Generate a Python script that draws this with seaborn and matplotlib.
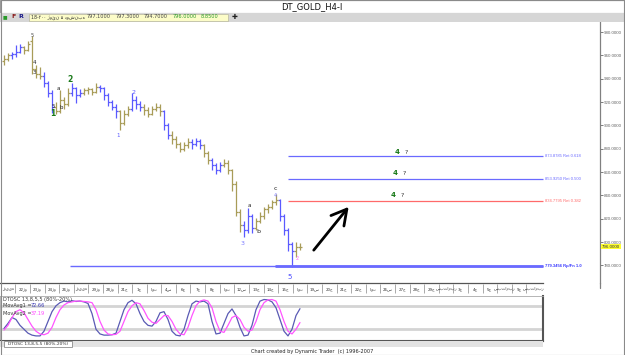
import numpy as np
import pandas as pd
import matplotlib
matplotlib.use("Agg")
import matplotlib.pyplot as plt
from matplotlib.patches import Rectangle
from matplotlib.lines import Line2D
import seaborn as sns

# ---------------- data ----------------
opens = [955, 957, 960, 961, 963, 967, 965, 972, 948, 944, 942, 936, 928, 916, 912, 922, 918, 928, 932, 926,
         928, 930, 931, 929, 933, 932, 926, 920, 916, 912, 902, 910, 914, 922, 918, 916, 913, 910, 914, 916,
         912, 900, 892, 888, 884, 880, 883, 886, 884, 887, 883, 876, 870, 866, 862, 866, 868, 862, 850, 826,
         815, 810, 822, 812, 818, 822, 828, 830, 834, 836, 822, 810, 798, 792, 796]
highs = [960, 962, 963, 969, 970, 968, 972, 977, 952, 950, 946, 938, 930, 920, 930, 924, 932, 936, 933, 931,
         932, 933, 932, 936, 935, 933, 928, 922, 918, 913, 913, 917, 928, 925, 921, 918, 916, 917, 919, 918,
         913, 902, 895, 891, 886, 886, 889, 888, 889, 888, 884, 878, 872, 868, 869, 871, 870, 863, 852, 828,
         818, 829, 824, 821, 826, 830, 833, 836, 841, 837, 824, 812, 800, 800, 799]
lows = [952, 955, 957, 959, 962, 961, 964, 944, 941, 940, 933, 924, 911, 910, 911, 914, 917, 925, 919, 924,
        926, 927, 926, 928, 929, 922, 917, 913, 906, 896, 900, 908, 912, 914, 912, 909, 907, 909, 912, 908,
        896, 888, 884, 881, 877, 878, 881, 880, 882, 880, 873, 867, 862, 858, 860, 864, 858, 844, 822, 809,
        804, 808, 808, 810, 816, 820, 825, 828, 832, 818, 806, 792, 779, 787, 793]
closes = [957, 960, 961, 963, 967, 965, 970, 948, 944, 942, 936, 928, 916, 912, 922, 918, 928, 932, 926, 928,
          930, 931, 929, 933, 932, 926, 920, 916, 912, 902, 910, 914, 922, 918, 916, 913, 910, 914, 916, 912,
          900, 892, 888, 884, 880, 883, 886, 884, 887, 883, 876, 870, 866, 862, 866, 868, 862, 850, 826, 815,
          810, 822, 812, 818, 822, 828, 830, 834, 836, 822, 810, 798, 792, 796, 796]
trend = list("oobbbooooobbboooobbboooobbbbbooobbbooooobbooooobbboobbbooooobbboooooobbbboooob")[:75]

dtosc = [22, 35, 50, 45, 30, 20, 10, 5, 3, 3, 15, 40, 65, 80, 88, 92, 90, 93, 91, 92,
         90, 86, 60, 20, 8, 5, 5, 6, 10, 40, 70, 88, 94, 85, 60, 40, 30, 28, 40, 62,
         65, 45, 15, 5, 3, 20, 55, 85, 92, 90, 92, 85, 40, 8, 10, 35, 60, 72, 55, 25,
         3, 5, 30, 70, 92, 96, 95, 90, 75, 45, 15, 3, 20, 55, 72.66]
movavg = [18, 30, 50, 65, 70, 62, 45, 28, 15, 8, 6, 10, 25, 50, 70, 82, 88, 90, 92, 92,
          91, 90, 88, 70, 40, 18, 8, 6, 7, 15, 40, 65, 80, 88, 85, 68, 48, 38, 35, 45,
          55, 55, 40, 20, 8, 6, 25, 55, 80, 92, 95, 92, 75, 40, 15, 12, 30, 50, 55, 45,
          25, 15, 18, 40, 70, 88, 95, 96, 92, 70, 40, 15, 8, 20, 37.19]

price_ticks = [780, 800, 820, 840, 860, 880, 900, 920, 940, 960, 980]
last_price = 796.0

ret_levels = [873.8785, 853.9250, 834.7795]
ret_names = ["Ret 0.618", "Ret 0.500", "Ret 0.382"]
ret_colors = ["#6a6aff", "#6a6aff", "#ff6a6a"]
ret_start = 71
base_level = 779.3456
base_starts = [16.5, 67.75]
line_end = 134.75

wave_bar = [7, 7.5, 7.5, 12.25, 12.25, 13.5, 14.25, 16.5, 28.5, 32.25, 59.75, 61.25, 63.5, 67.75, 67.75, 71.5, 73.25]
wave_price = [977, 954, 945.7, 916.6, 910.5, 932, 914.9, 939, 891.7, 928.6, 799, 830.9, 809.4, 845.5, 840, 770, 786.3]
wave_text = ["5", "4", "3", "5", "1", "a", "b", "2", "1", "2", "3", "a", "b", "c", "4", "5", "2"]
wave_color = ["#444444", "#222222", "#222222", "#222222", "#1a7a1a", "#222222", "#222222", "#1a7a1a",
              "#5a5aff", "#5a5aff", "#7a7aff", "#222222", "#222222", "#222222", "#7a7aff", "#4a4aff", "#ff66ff"]
wave_size = [3.5, 4, 4, 4, 5.5, 4, 4, 5.5, 4, 4.5, 4.5, 4, 4.5, 4.5, 3.5, 5, 3.5]

q_bar = [99.5, 99, 98.5]
q_price = [877, 859, 840]

date_labels = ["ژوییه", "22ژو", "23ژو", "24ژو", "26ژو", "ژوییه", "29ژو", "28ژو", "21ج", "1ج", "اوت",
               "4س", "6ج", "7ج", "8ج", "اوت", "12س", "13ج", "14ج", "15ج", "اوت", "19س", "20ج", "21ج",
               "22ج", "اوت", "26س", "27ج", "28ج", "29ج", "سپتامبر", "3ج", "4ج", "5ج", "سپتامبر", "9ج", "سپتامبر"]

# ---------------- style ----------------
sns.set_theme(style="white")
plt.rcParams["font.family"] = ["DejaVu Sans"]

W, H = 625, 355
fig = plt.figure(figsize=(W / 100, H / 100), dpi=100)
fig.patch.set_facecolor("white")


def rect(x0, y0, x1, y1):
    return [x0 / W, 1 - y1 / H, (x1 - x0) / W, (y1 - y0) / H]


def fx(px):
    return px / W


def fy(py):
    return 1 - py / H


# title row and toolbar
fig.add_artist(Rectangle((0, fy(13)), 1, 13 / H, transform=fig.transFigure, facecolor="white",
                         edgecolor="#9a9a9a", lw=0.8))
fig.text(fx(312), fy(7), "DT_GOLD_H4-I", ha="center", va="center", fontsize=6, color="#111111")
fig.add_artist(Rectangle((0, fy(22)), 1, 9 / H, transform=fig.transFigure, facecolor="#d6d6d6",
                         edgecolor="none"))
fig.add_artist(Rectangle((fx(29), fy(20.5)), 199 / W, 7 / H, transform=fig.transFigure,
                         facecolor="#fcfcc8", edgecolor="#b8b8a0", lw=0.5))
fig.text(fx(3), fy(17), "■", fontsize=3.5, color="#2a9a2a", va="center")
fig.text(fx(11), fy(17), "F", fontsize=4.5, color="#8a1a1a", va="center", weight="bold")
fig.text(fx(18), fy(17), "R", fontsize=4.5, color="#1a1a8a", va="center", weight="bold")
fig.text(fx(31), fy(17), "18-۲۰۰ ژوئن ۵ دوشنبه", fontsize=3.3, color="#333333", va="center")
vals = ["797.1000", "797.3000", "794.7000", "796.0000", "8.8500"]
vcols = ["#444444", "#444444", "#444444", "#2a9a2a", "#2a9a2a"]
for k, (v, c) in enumerate(zip(vals, vcols)):
    fig.text(fx(87 + k * 28.5), fy(17), v, fontsize=3.6, color=c, va="center")
fig.text(fx(235), fy(17), "✚", fontsize=5, color="#222222", va="center", ha="center")

# ---------------- main price panel ----------------
ax = fig.add_axes(rect(0, 22, 600, 283))
ax.set_facecolor("white")
n = len(closes)
idx = np.arange(n)
palette = {"b": "#5a5aff", "o": "#a89c58"}
cols = [palette[t] for t in trend[:n]]
ax.vlines(idx, lows, highs, colors=cols, lw=0.9)
ax.hlines(opens, idx - 0.5, idx, colors=cols, lw=0.9)
ax.hlines(closes, idx, idx + 0.5, colors=cols, lw=0.9)

ax.set_xlim(-1, 149)
ax.set_ylim(764.9, 988.6)

for lvl, name, c in zip(ret_levels, ret_names, ret_colors):
    ax.hlines(lvl, ret_start, line_end, colors=c, lw=0.9)
    ax.text(line_end + 0.4, lvl, f"{lvl:.4f} {name}", fontsize=3.0, color=c, va="center", ha="left",
            family="Liberation Sans")
for k, s in enumerate(base_starts):
    ax.hlines(base_level, s, line_end, colors="#6a6aff", lw=1.0 + k * 1.0)
ax.text(line_end + 0.4, base_level, f"{base_level:.4f} Rp/Fn 1.0", fontsize=3.0, color="#3a3aff",
        va="center", ha="left", weight="bold", family="Liberation Sans")

for b, p, t, c, s in zip(wave_bar, wave_price, wave_text, wave_color, wave_size):
    ax.text(b, p, t, fontsize=s, color=c, ha="center", va="center",
            weight="bold" if c == "#1a7a1a" else "normal")
for b, p in zip(q_bar, q_price):
    ax.text(b - 0.6, p, "4", fontsize=5, color="#1a7a1a", ha="right", va="center", weight="bold")
    ax.text(b + 0.6, p, "?", fontsize=4.5, color="#333333", ha="left", va="center")

ax.annotate("", xy=(86.6, 832), xytext=(77, 791.2),
            arrowprops=dict(arrowstyle="->,head_length=0.9,head_width=0.5", color="black", lw=2))

ax.yaxis.tick_right()
ax.set_yticks(price_ticks)
ax.set_yticklabels([f"{v:.4f}" for v in price_ticks], family="Liberation Sans")
ax.tick_params(axis="y", labelsize=3.2, colors="#666666", length=2, width=0.6, pad=0.8, right=True)
ax.set_xticks([])
for sp in ["left", "top", "bottom"]:
    ax.spines[sp].set_visible(False)
ax.spines["right"].set_color("#808080")
ax.spines["right"].set_linewidth(0.9)
ax.text(1.003, last_price, f"{last_price:.4f}", transform=ax.get_yaxis_transform(), fontsize=3.2,
        color="#333333", va="center", ha="left", family="Liberation Sans",
        bbox=dict(boxstyle="square,pad=0.15", facecolor="#ffff30", edgecolor="none"))
fig.add_artist(Line2D([fx(600), fx(600)], [fy(283), fy(288)], color="#808080", lw=0.9))

# ---------------- date strip ----------------
axd = fig.add_axes(rect(0, 283, 543, 294))
axd.set_xlim(-1, 134.75)
axd.set_ylim(0, 1)
axd.set_xticks([])
axd.set_yticks([])
for sp in ["left", "right", "bottom"]:
    axd.spines[sp].set_visible(False)
axd.spines["top"].set_color("#555555")
axd.spines["top"].set_linewidth(0.9)
step = 3.65
for k, lab in enumerate(date_labels):
    xc = 1.0 + k * step
    axd.text(xc, 0.45, lab, fontsize=2.9, color="#333333", ha="center", va="center")
    axd.vlines(xc - step / 2, 0.1, 0.9, colors="#888888", lw=0.5)

# ---------------- oscillator ----------------
axo = fig.add_axes(rect(0, 296, 543, 341))
axo.set_xlim(-1, 134.75)
axo.set_ylim(-10, 105)
axo.axhline(80, color="#d4d4d4", lw=2)
axo.axhline(20, color="#d4d4d4", lw=2)
osc = pd.DataFrame({"bar": idx, "DTOSC": dtosc, "MovAvg": movavg})
sns.lineplot(data=osc, x="bar", y="DTOSC", ax=axo, color="#5a5ab4", lw=0.9)
sns.lineplot(data=osc, x="bar", y="MovAvg", ax=axo, color="#ff55ff", lw=0.9)
axo.set_xlabel("")
axo.set_ylabel("")
axo.set_xticks([])
axo.set_yticks([])
for sp in ["top", "left"]:
    axo.spines[sp].set_color("#aaaaaa")
    axo.spines[sp].set_linewidth(0.6)
for sp in ["right", "bottom"]:
    axo.spines[sp].set_color("#555555")
    axo.spines[sp].set_linewidth(1.5)
axo.text(0.006, 0.97, "DTOSC 13,8,5,5 (80%-20%)", transform=axo.transAxes, fontsize=3.6, color="#333333",
         va="top", ha="left")
fig.text(fx(3), fy(305.5), "MovAvg1 =", fontsize=3.6, color="#333333", va="center")
fig.text(fx(31), fy(305.5), f"{dtosc[-1]:.2f}", fontsize=3.6, color="#3a3ab4", va="center")
fig.text(fx(3), fy(313.5), "MovAvg2 =", fontsize=3.6, color="#333333", va="center")
fig.text(fx(31), fy(313.5), f"{movavg[-1]:.2f}", fontsize=3.6, color="#ff44ff", va="center")

# tab + footer
fig.add_artist(Rectangle((0, fy(347)), 543 / W, 6 / H, transform=fig.transFigure, facecolor="#e2e2e2",
                         edgecolor="none"))
fig.add_artist(Rectangle((fx(4), fy(347)), 68 / W, 6 / H, transform=fig.transFigure, facecolor="white",
                         edgecolor="#777777", lw=0.5))
fig.text(fx(38), fy(344), "DTOSC 13,8,5,5 (80%-20%)", fontsize=3.2, color="#333333", ha="center",
         va="center")
fig.text(fx(312), fy(351), "Chart created by Dynamic Trader  (c) 1996-2007", fontsize=3.6,
         color="#222222", ha="center", va="center")
fig.add_artist(Rectangle((0.001, 0.001), 0.998, 0.998, transform=fig.transFigure, facecolor="none",
                         edgecolor="#8a8a8a", lw=0.8))

fig.savefig("out.png", dpi=100)
